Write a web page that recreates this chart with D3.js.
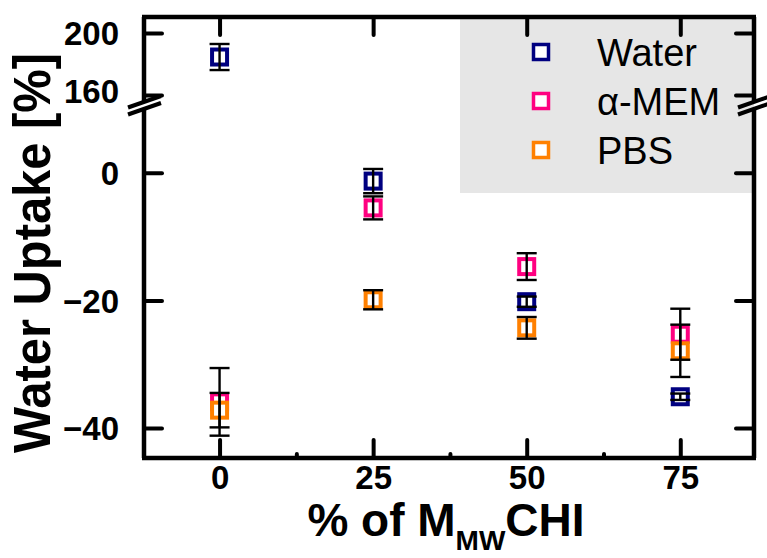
<!DOCTYPE html>
<html>
<head>
<meta charset="utf-8">
<script src="https://cdn.jsdelivr.net/npm/d3@7"></script>
<style>
  body { margin: 0; background: #fff; }
  text { font-family: "Liberation Sans", Arial, sans-serif; }
</style>
</head>
<body>
<script>
// data
const groups = [0, 25, 50, 75];
const series = ["Water", "α-MEM", "PBS"];
const colors = ["#000080", "#ff0080", "#ff8000"];
const waterMean = [184.5, -1.3, -20.2, -35.1];
const waterErr = [8.4, 1.9, 0.8, 0.5];
const memMean = [-35.9, -5.5, -14.7, -25.3];
const memErr = [5.3, 1.8, 2.1, 4.0];
const pbsMean = [-37.2, -19.9, -24.3, -27.9];
const pbsErr = [2.7, 1.5, 1.7, 4.1];
const xTicks = [0, 25, 50, 75];
const xMinor = [12.5, 37.5, 62.5];
const yTicksHigh = [160, 200];
const yTicksLow = [-40, -20, 0];

const width = 767;
const height = 558;
const plotL = 144, plotR = 754, plotT = 17, plotB = 458;
const breakHi = 102, breakLo = 109;

const svg = d3.select("body")
    .append("svg")
    .attr("width", width)
    .attr("height", height);

const x = d3.scaleLinear().domain([-12.3, 87]).range([plotL, plotR]);
const yHigh = d3.scaleLinear().domain([155.5, 210.3]).range([breakHi, plotT]);
const yLow = d3.scaleLinear().domain([-44.7, 10]).range([plotB, breakLo]);
const y = v => v > 100 ? yHigh(v) : yLow(v);

const means = [waterMean, memMean, pbsMean];
const errs = [waterErr, memErr, pbsErr];
const points = [];
series.forEach((s, i) => groups.forEach((g, j) => {
    points.push({ s: s, c: colors[i], g: g, m: means[i][j], e: errs[i][j] });
}));

// legend background
svg.append("rect")
    .attr("x", 460)
    .attr("y", plotT)
    .attr("width", plotR - 460)
    .attr("height", 193 - plotT)
    .attr("fill", "#e6e6e6");

// markers
svg.append("g").selectAll("rect")
    .data(points)
    .join("rect")
    .attr("x", d => x(d.g) - 7.5)
    .attr("y", d => y(d.m) - 7.5)
    .attr("width", 15)
    .attr("height", 15)
    .attr("fill", "#fff")
    .attr("stroke", d => d.c)
    .attr("stroke-width", 4);

// error bars on top
const eb = svg.append("g").attr("stroke", "#000").attr("stroke-width", 2.4);
eb.selectAll("line.v").data(points).join("line").attr("class", "v")
    .attr("x1", d => x(d.g)).attr("x2", d => x(d.g))
    .attr("y1", d => y(d.m - d.e)).attr("y2", d => y(d.m + d.e));
eb.selectAll("line.hi").data(points).join("line").attr("class", "hi")
    .attr("x1", d => x(d.g) - 10).attr("x2", d => x(d.g) + 10)
    .attr("y1", d => y(d.m + d.e)).attr("y2", d => y(d.m + d.e));
eb.selectAll("line.lo").data(points).join("line").attr("class", "lo")
    .attr("x1", d => x(d.g) - 10).attr("x2", d => x(d.g) + 10)
    .attr("y1", d => y(d.m - d.e)).attr("y2", d => y(d.m - d.e));

// axes (ticks point inward)
function styleAxis(g) {
    g.select(".domain").remove();
    g.selectAll(".tick line").attr("stroke", "#000").attr("stroke-width", 4).attr("stroke-linecap", "round");
    g.selectAll(".tick text")
        .attr("fill", "#000")
        .style("font-size", "33px")
        .style("font-weight", "bold");
}

svg.append("g")
    .attr("transform", `translate(0,${plotB})`)
    .call(d3.axisBottom(x).tickValues(xTicks).tickSizeInner(-18).tickSizeOuter(0).tickPadding(8))
    .call(styleAxis);
svg.append("g")
    .attr("transform", `translate(0,${plotB})`)
    .call(d3.axisBottom(x).tickValues(xMinor).tickSizeInner(-4).tickSizeOuter(0).tickFormat(""))
    .call(styleAxis);
svg.append("g")
    .attr("transform", `translate(0,${plotT})`)
    .call(d3.axisTop(x).tickValues(xTicks).tickSizeInner(-18).tickSizeOuter(0).tickFormat(""))
    .call(styleAxis);

[[yHigh, yTicksHigh], [yLow, yTicksLow]].forEach(([sc, tv]) => {
    svg.append("g")
        .attr("transform", `translate(${plotL},0)`)
        .call(d3.axisLeft(sc).tickValues(tv).tickSizeInner(-18).tickSizeOuter(0).tickPadding(25))
        .call(styleAxis)
        .call(g => g.selectAll(".tick text").attr("dy", "0.36em"))
        .call(g => g.selectAll(".tick").filter(d => d === 160).select("text").attr("dy", "0.22em"));
    svg.append("g")
        .attr("transform", `translate(${plotR},0)`)
        .call(d3.axisRight(sc).tickValues(tv).tickSizeInner(-18).tickSizeOuter(0).tickFormat(""))
        .call(styleAxis);
});

// frame with axis breaks
const frame = svg.append("g").attr("stroke", "#000").attr("stroke-width", 4.5).attr("fill", "none");
frame.append("line").attr("x1", plotL - 2).attr("x2", plotR + 2).attr("y1", plotT).attr("y2", plotT);
frame.append("line").attr("x1", plotL - 2).attr("x2", plotR + 2).attr("y1", plotB).attr("y2", plotB);
[plotL, plotR].forEach(ax => {
    frame.append("line").attr("x1", ax).attr("x2", ax).attr("y1", plotT).attr("y2", breakHi);
    frame.append("line").attr("x1", ax).attr("x2", ax).attr("y1", breakLo).attr("y2", plotB);
    [breakHi, breakLo].forEach(by => {
        frame.append("line")
            .attr("stroke-width", 4)
            .attr("x1", ax - 16).attr("y1", by + 5.5)
            .attr("x2", ax + 17).attr("y2", by - 6);
    });
});

// legend
const leg = svg.append("g");
series.forEach((s, i) => {
    const ly = 52 + i * 49;
    leg.append("rect")
        .attr("x", 541 - 7.5).attr("y", ly - 7.5)
        .attr("width", 15).attr("height", 15)
        .attr("fill", "#fff")
        .attr("stroke", colors[i])
        .attr("stroke-width", 3.5);
    leg.append("text")
        .attr("x", 597)
        .attr("y", ly + 14)
        .style("font-size", "38px")
        .text(s);
});

// axis titles
svg.append("text")
    .attr("transform", "translate(50,253) rotate(-90)")
    .attr("text-anchor", "middle")
    .attr("textLength", 400)
    .attr("lengthAdjust", "spacingAndGlyphs")
    .style("font-size", "52px")
    .style("font-weight", "bold")
    .text("Water Uptake [%]");

const xt = svg.append("text")
    .attr("x", 446)
    .attr("y", 536)
    .attr("text-anchor", "middle")
    .style("font-size", "46px")
    .style("font-weight", "bold");
xt.append("tspan").text("% of M");
xt.append("tspan").attr("dy", 14).style("font-size", "28px").text("MW");
xt.append("tspan").attr("dy", -14).text("CHI");
</script>
</body>
</html>
